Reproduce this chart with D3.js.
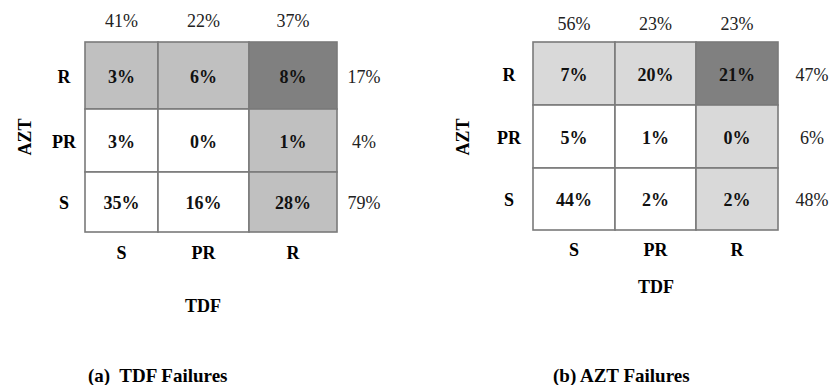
<!DOCTYPE html>
<html>
<head>
<meta charset="utf-8">
<script src="https://cdn.jsdelivr.net/npm/d3@7"></script>
<style>
  html, body { margin: 0; padding: 0; background: #fff; }
  svg { display: block; font-family: "Liberation Serif", "Times New Roman", serif; }
</style>
</head>
<body>
<svg id="chart" width="833" height="385"></svg>
<script>
// Category labels
const tdfLevels = ["S", "PR", "R"];   // columns (TDF)
const aztLevels = ["R", "PR", "S"];   // rows (AZT), top to bottom

// (a) TDF failures: percentages per AZT row x TDF column
const tdfFailValues = [
  [3, 6, 8],
  [3, 0, 1],
  [35, 16, 28]
];
const tdfFailColTotals = [41, 22, 37];
const tdfFailRowTotals = [17, 4, 79];
// shading level per cell: 0 = none, 1 = light, 2 = dark
const tdfFailShade = [
  [1, 1, 2],
  [0, 0, 1],
  [0, 0, 1]
];

// (b) AZT failures
const aztFailValues = [
  [7, 20, 21],
  [5, 1, 0],
  [44, 2, 2]
];
const aztFailColTotals = [56, 23, 23];
const aztFailRowTotals = [47, 6, 48];
const aztFailShade = [
  [1, 1, 2],
  [0, 0, 1],
  [0, 0, 1]
];

const captions = ["(a)\u00a0 TDF Failures", "(b) AZT Failures"];

const svg = d3.select("#chart");

const panels = [
  {
    values: tdfFailValues, colTotals: tdfFailColTotals, rowTotals: tdfFailRowTotals,
    shade: tdfFailShade, caption: captions[0],
    colEdges: [85, 158, 249, 337], rowEdges: [42, 109, 172, 232],
    shadeColors: ["#ffffff", "#c0c0c0", "#808080"],
    topY: 27, rowLabelX: 64, rowTotalX: 364, colLabelY: 259,
    yLabelX: 31, xTitleX: 203, xTitleY: 312, captionX: 88
  },
  {
    values: aztFailValues, colTotals: aztFailColTotals, rowTotals: aztFailRowTotals,
    shade: aztFailShade, caption: captions[1],
    colEdges: [533, 615, 696, 778], rowEdges: [42, 105, 168, 230],
    shadeColors: ["#ffffff", "#d9d9d9", "#808080"],
    topY: 30, rowLabelX: 509, rowTotalX: 812, colLabelY: 256,
    yLabelX: 469, xTitleX: 656, xTitleY: 293, captionX: 553
  }
];

const pct = v => v + "%";

panels.forEach(p => {
  const g = svg.append("g");
  // piecewise linear scales from category index to pixel edges
  const x = d3.scaleLinear().domain([0, 1, 2, 3]).range(p.colEdges);
  const y = d3.scaleLinear().domain([0, 1, 2, 3]).range(p.rowEdges);
  const xc = i => (x(i) + x(i + 1)) / 2;
  const yc = i => (y(i) + y(i + 1)) / 2;

  const cells = [];
  p.values.forEach((row, r) => row.forEach((v, c) => cells.push({ r, c, v, s: p.shade[r][c] })));

  g.selectAll("rect.cell").data(cells).join("rect")
    .attr("class", "cell")
    .attr("x", d => x(d.c)).attr("y", d => y(d.r))
    .attr("width", d => x(d.c + 1) - x(d.c))
    .attr("height", d => y(d.r + 1) - y(d.r))
    .attr("fill", d => p.shadeColors[d.s])
    .attr("stroke", "#7a7a7a").attr("stroke-width", 1.6);

  g.selectAll("text.val").data(cells).join("text")
    .attr("class", "val")
    .attr("x", d => xc(d.c)).attr("y", d => yc(d.r) + 7)
    .attr("text-anchor", "middle")
    .attr("font-size", 18).attr("font-weight", "bold").attr("fill", "#111")
    .text(d => pct(d.v));

  // column totals above the grid
  g.selectAll("text.ctot").data(p.colTotals).join("text")
    .attr("x", (d, i) => xc(i)).attr("y", p.topY)
    .attr("text-anchor", "middle").attr("font-size", 18).attr("fill", "#222")
    .text(pct);

  // row totals to the right
  g.selectAll("text.rtot").data(p.rowTotals).join("text")
    .attr("x", p.rowTotalX).attr("y", (d, i) => yc(i) + 7)
    .attr("text-anchor", "middle").attr("font-size", 18).attr("fill", "#222")
    .text(pct);

  // row category labels
  g.selectAll("text.rlab").data(aztLevels).join("text")
    .attr("x", p.rowLabelX).attr("y", (d, i) => yc(i) + 7)
    .attr("text-anchor", "middle").attr("font-size", 18).attr("font-weight", "bold")
    .text(d => d);

  // column category labels
  g.selectAll("text.clab").data(tdfLevels).join("text")
    .attr("x", (d, i) => xc(i)).attr("y", p.colLabelY)
    .attr("text-anchor", "middle").attr("font-size", 18).attr("font-weight", "bold")
    .text(d => d);

  // axis titles
  g.append("text")
    .attr("transform", `translate(${p.yLabelX},${137}) rotate(-90)`)
    .attr("text-anchor", "middle").attr("font-size", 18).attr("font-weight", "bold")
    .text("AZT");
  g.append("text")
    .attr("x", p.xTitleX).attr("y", p.xTitleY)
    .attr("text-anchor", "middle").attr("font-size", 18).attr("font-weight", "bold")
    .text("TDF");

  // panel caption
  g.append("text")
    .attr("x", p.captionX).attr("y", 382)
    .attr("font-size", 19).attr("font-weight", "bold")
    .text(p.caption);
});
</script>
</body>
</html>
